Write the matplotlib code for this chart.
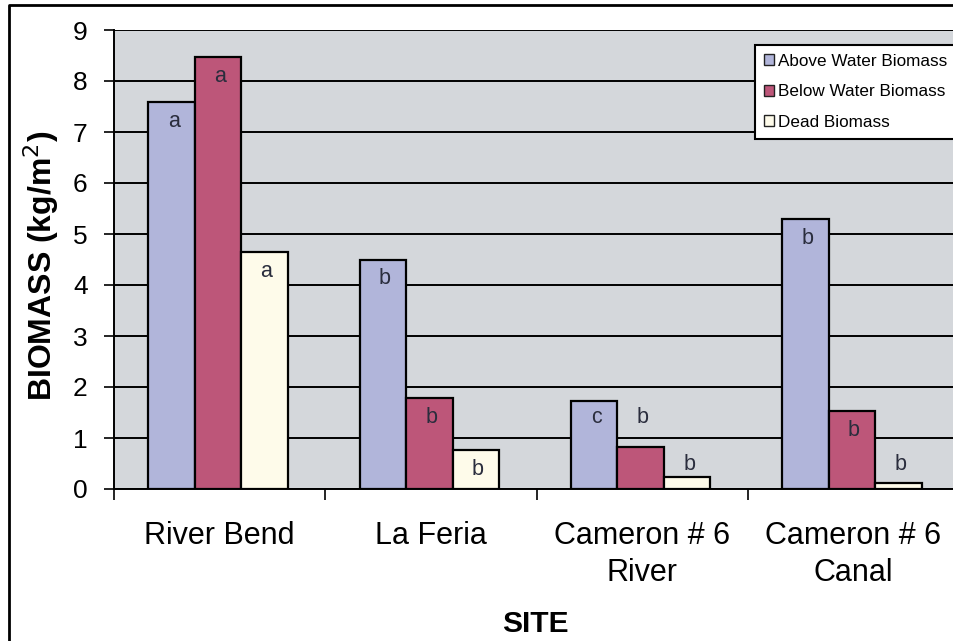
import matplotlib
matplotlib.use("Agg")
import matplotlib.pyplot as plt
from matplotlib.patches import Patch
from matplotlib.lines import Line2D
import numpy as np

plt.rcParams['font.family'] = ['Liberation Sans', 'DejaVu Sans']

sites = ["River Bend", "La Feria", "Cameron # 6\nRiver", "Cameron # 6\nCanal"]
series_names = ["Above Water Biomass", "Below Water Biomass", "Dead Biomass"]
above = [7.58, 4.50, 1.72, 5.30]
below = [8.47, 1.78, 0.83, 1.53]
dead = [4.65, 0.76, 0.23, 0.11]
letters_above = ['a', 'b', 'c', 'b']
letters_below = ['a', 'b', 'b', 'b']
letters_dead = ['a', 'b', 'b', 'b']
yticks = [0, 1, 2, 3, 4, 5, 6, 7, 8, 9]

colors = ['#B1B5DA', '#BD5679', '#FEFBEA']
bg = '#D4D7DB'

W, H = 954, 641
fig = plt.figure(figsize=(W / 100, H / 100), dpi=100)
ax = fig.add_axes([114 / W, 1 - 489 / H, (954 - 114) / W, (489 - 30) / H])
ax.set_facecolor(bg)

series = [above, below, dead]
letters = [letters_above, letters_below, letters_dead]
width = 0.22
x = np.arange(len(sites)) + 0.5
# letter anchors (label placement); default -> inside the bar top
label_override = {(1, 2): 1.41, (2, 2): 0.49, (2, 3): 0.49, (0, 2): 1.41}

for j, (vals, col) in enumerate(zip(series, colors)):
    xs = x + (j - 1) * width - 0.008
    ax.bar(xs, vals, width=width, color=col, edgecolor='black', linewidth=1.6, zorder=3)
    for i, (xx, v) in enumerate(zip(xs, vals)):
        ly = label_override.get((j, i), v - 0.38)
        ax.text(xx + 0.01, ly, letters[j][i], ha='center', va='center',
                fontsize=15.5, color='#2A2D3D', zorder=4)

ax.set_ylim(0, 9)
ax.set_xlim(0, 840 / 211.3)
ax.set_yticks(yticks)
ax.set_yticklabels([str(t) for t in yticks], fontsize=19)
ax.yaxis.grid(True, color='black', linewidth=1.4, zorder=1)
ax.set_axisbelow(True)
ax.tick_params(axis='y', direction='out', length=7, width=1.2, pad=12, colors='black')

ax.set_xticks([0, 1, 2, 3])
ax.set_xticklabels([])
ax.tick_params(axis='x', which='major', direction='out', length=8, width=1.2)
ax.set_xticks(x, minor=True)
ax.set_xticklabels(sites, minor=True, fontsize=22, linespacing=1.32)
ax.tick_params(axis='x', which='minor', length=0, pad=23)

for s in ['top', 'right']:
    ax.spines[s].set_visible(False)
ax.spines['left'].set_linewidth(1.4)
ax.spines['bottom'].set_linewidth(1.4)

fig.text(41 / W, 1 - 266 / H, "BIOMASS (kg/m$^2$)", rotation=90, ha='center', va='center',
         fontsize=23, fontweight='bold')
fig.text(535 / W, 1 - 624 / H, "SITE", ha='center', va='center', fontsize=21.5, fontweight='bold')

handles = [Patch(facecolor=c, edgecolor='#222222', linewidth=1.0) for c in colors]
leg = fig.legend(handles, series_names, loc='upper left', bbox_to_anchor=(755 / W, 1 - 45 / H),
                 bbox_transform=fig.transFigure, borderaxespad=0, fontsize=12.3,
                 handlelength=0.62, handleheight=0.62, handletextpad=0.2, labelspacing=0.92,
                 borderpad=0.5, fancybox=False, framealpha=1, edgecolor='black')
leg.get_frame().set_linewidth(1.5)

fig.add_artist(Line2D([9 / W, 9 / W, 1], [0, 1 - 5 / H, 1 - 5 / H], transform=fig.transFigure,
                      color='black', linewidth=2))

fig.savefig('out.png', dpi=100)
